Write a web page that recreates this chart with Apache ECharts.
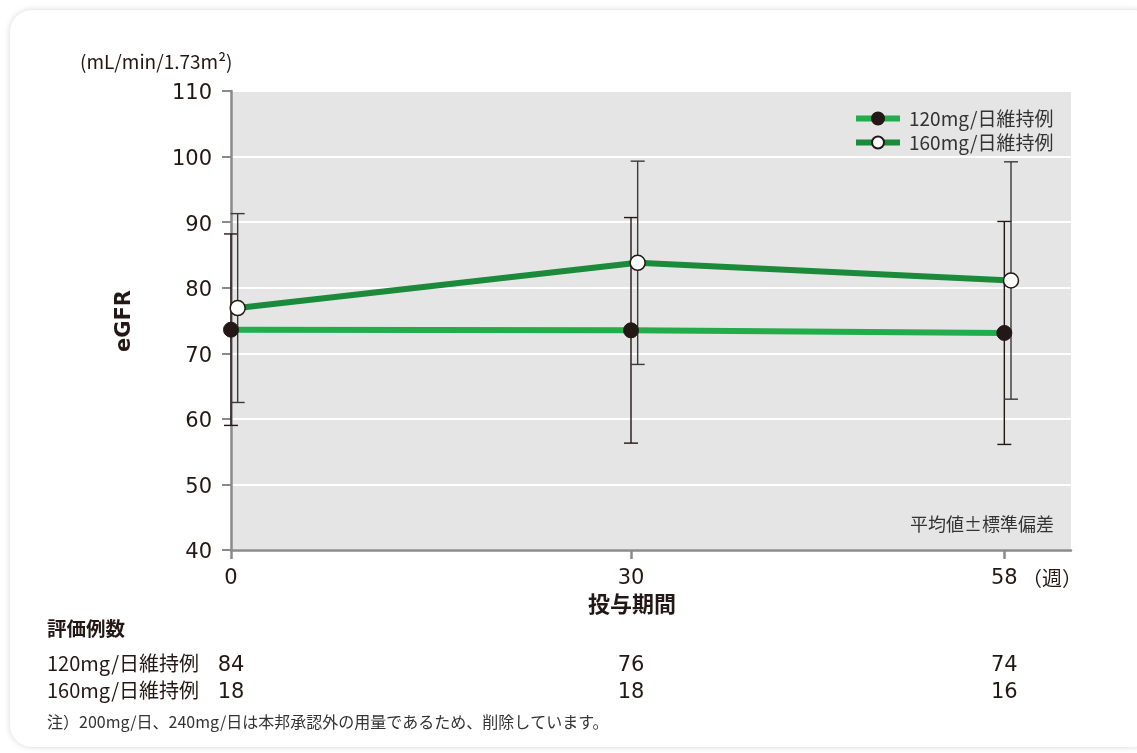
<!DOCTYPE html>
<html>
<head>
<meta charset="utf-8">
<script src="https://cdn.jsdelivr.net/npm/echarts@6/dist/echarts.min.js"></script>
<style>
  html, body { margin: 0; padding: 0; background: #fff; width: 1137px; height: 753px; overflow: hidden; }
  #card { position: absolute; left: 10px; top: 10px; width: 1145px; height: 737px; background: #fff;
          border-radius: 22px; box-shadow: 0 0 6px rgba(0,0,0,0.16); }
  #chart { position: absolute; left: 0; top: 0; width: 1137px; height: 753px; }
</style>
</head>
<body>
<div id="card"></div>
<div id="chart"></div>
<script>
// Visit weeks and eGFR summaries (mean ± SD) per maintenance dose group
const weeks = [0, 30, 58];
const weekTicks = [0, 30, 58];
const yTicks = [40, 50, 60, 70, 80, 90, 100, 110];
const seriesNames = ['120mg/日維持例', '160mg/日維持例'];
const mean120 = [73.6, 73.5, 73.1];
const sd120 = [14.6, 17.2, 17.0];
const mean160 = [76.9, 83.8, 81.1];
const sd160 = [14.4, 15.5, 18.1];
const n120 = [84, 76, 74];
const n160 = [18, 18, 16];

const FONT = '"Noto Sans CJK JP", "Noto Sans", sans-serif';
const NUMFONT = '"DejaVu Sans", "Noto Sans CJK JP", sans-serif';
const TXT = '#231815';
const GREEN1 = '#22ac4c';
const GREEN2 = '#1b8a3b';

const pts120 = weeks.map((w, i) => [w, mean120[i]]);
const pts160 = weeks.map((w, i) => [w, mean160[i]]);
const bars120 = weeks.map((w, i) => [w, mean120[i] - sd120[i], mean120[i] + sd120[i]]);
const bars160 = weeks.map((w, i) => [w, mean160[i] - sd160[i], mean160[i] + sd160[i]]);

function errorBar(color) {
  return function (params, api) {
    const x = api.value(0);
    const lo = api.coord([x, api.value(1)]);
    const hi = api.coord([x, api.value(2)]);
    const cap = 7;
    const style = { stroke: color, lineWidth: 1.4, fill: null };
    return {
      type: 'group',
      children: [
        { type: 'line', shape: { x1: hi[0], y1: hi[1], x2: lo[0], y2: lo[1] }, style },
        { type: 'line', shape: { x1: hi[0] - cap, y1: hi[1], x2: hi[0] + cap, y2: hi[1] }, style },
        { type: 'line', shape: { x1: lo[0] - cap, y1: lo[1], x2: lo[0] + cap, y2: lo[1] }, style }
      ]
    };
  };
}

const chart = echarts.init(document.getElementById('chart'), null, { renderer: 'canvas' });

const option = {
  backgroundColor: 'transparent',
  animation: false,
  textStyle: { fontFamily: FONT },
  grid: { left: 231, top: 91, right: 66, bottom: 203, show: true, backgroundColor: '#e5e5e5', borderWidth: 0 },
  legend: {
    orient: 'vertical', left: 848, top: 104, itemWidth: 44, itemHeight: 15, itemGap: 5,
    data: seriesNames,
    lineStyle: { width: 6 },
    textStyle: { fontFamily: FONT, fontSize: 19, color: '#333', padding: [0, 0, 0, 4] }
  },
  xAxis: [
    {
      type: 'value', min: 0, max: 63,
      axisLine: { show: true, onZero: false, lineStyle: { color: '#8a8a8a', width: 2.5 } },
      axisTick: { show: true, customValues: weekTicks, length: 9, lineStyle: { color: '#8a8a8a', width: 2.5 } },
      axisLabel: { show: true, customValues: weekTicks, fontSize: 21, color: TXT, margin: 15,
        padding: [3, 0, 0, 0], fontFamily: NUMFONT },
      splitLine: { show: false }
    },
    // companion scale: places the 160 mg group half a week to the right so the bars don't overlap
    { type: 'value', min: -0.5, max: 62.5, show: false }
  ],
  yAxis: {
    type: 'value', min: 40, max: 110, interval: 10,
    axisLine: { show: true, onZero: false, lineStyle: { color: '#8a8a8a', width: 2.5 } },
    axisTick: { show: true, length: 9, lineStyle: { color: '#8a8a8a', width: 2 } },
    axisLabel: { margin: 19,
      formatter: v => (yTicks.includes(v) ? '{n|' + v + '}' : ''),
      rich: { n: { fontSize: 21, color: TXT, fontFamily: NUMFONT, padding: [6, 0, 0, 0] } } },
    splitLine: { show: true, lineStyle: { color: '#ffffff', width: 2 } }
  },
  series: [
    { type: 'custom', name: 'sd120', xAxisIndex: 0, renderItem: errorBar('#231815'),
      data: bars120, z: 1, clip: false, silent: true, encode: { x: 0, y: [1, 2] } },
    { type: 'custom', name: 'sd160', xAxisIndex: 1, renderItem: errorBar('#3a3a3a'),
      data: bars160, z: 1, clip: false, silent: true, encode: { x: 0, y: [1, 2] } },
    { type: 'line', name: seriesNames[0], xAxisIndex: 0, data: pts120, z: 3, clip: false,
      symbol: 'circle', symbolSize: 15, showAllSymbol: true,
      lineStyle: { color: GREEN1, width: 6 },
      itemStyle: { color: '#231815', borderColor: '#231815', borderWidth: 1 } },
    { type: 'line', name: seriesNames[1], xAxisIndex: 1, data: pts160, z: 4, clip: false,
      symbol: 'circle', symbolSize: 15, showAllSymbol: true,
      lineStyle: { color: GREEN2, width: 6 },
      itemStyle: { color: '#ffffff', borderColor: '#231815', borderWidth: 1.5 } }
  ],
  graphic: [
    { type: 'text', left: 80, top: 52,
      style: { text: '(mL/min/1.73m²)', font: '19px ' + FONT, fill: TXT } },
    { type: 'text', x: 125, y: 321, rotation: Math.PI / 2,
      style: { text: 'eGFR', font: 'bold 21px "DejaVu Sans", sans-serif', fill: TXT, align: 'center', verticalAlign: 'middle' } },
    { type: 'text', x: 1054, y: 524,
      style: { text: '平均値±標準偏差', font: '18px ' + FONT, fill: '#333', align: 'right', verticalAlign: 'middle' } },
    { type: 'text', x: 1082, y: 578,
      style: { text: '（週）', font: '20px ' + FONT, fill: TXT, align: 'right', verticalAlign: 'middle' } },
    { type: 'text', x: 632, y: 604,
      style: { text: '投与期間', font: 'bold 22px ' + FONT, fill: TXT, align: 'center', verticalAlign: 'middle' } },
    { type: 'text', x: 47, y: 629,
      style: { text: '評価例数', font: 'bold 19.5px ' + FONT, fill: TXT, verticalAlign: 'middle' } },
    { type: 'text', x: 47, y: 663,
      style: { text: seriesNames[0], font: '20px ' + FONT, fill: TXT, verticalAlign: 'middle' } },
    { type: 'text', x: 47, y: 690,
      style: { text: seriesNames[1], font: '20px ' + FONT, fill: TXT, verticalAlign: 'middle' } },
    { type: 'text', x: 47, y: 722,
      style: { text: '注）200mg/日、240mg/日は本邦承認外の用量であるため、削除しています。', font: '16px ' + FONT, fill: '#333', verticalAlign: 'middle' } }
  ]
};

chart.setOption(option);

// sample-size rows, placed under each visit week
const countGraphics = [];
weeks.forEach((w, i) => {
  const cx = chart.convertToPixel({ xAxisIndex: 0 }, w);
  countGraphics.push({ type: 'text', x: cx, y: 666,
    style: { text: String(n120[i]), font: '21px ' + NUMFONT, fill: TXT, align: 'center', verticalAlign: 'middle' } });
  countGraphics.push({ type: 'text', x: cx, y: 693,
    style: { text: String(n160[i]), font: '21px ' + NUMFONT, fill: TXT, align: 'center', verticalAlign: 'middle' } });
});
chart.setOption({ graphic: option.graphic.concat(countGraphics) });
</script>
</body>
</html>
